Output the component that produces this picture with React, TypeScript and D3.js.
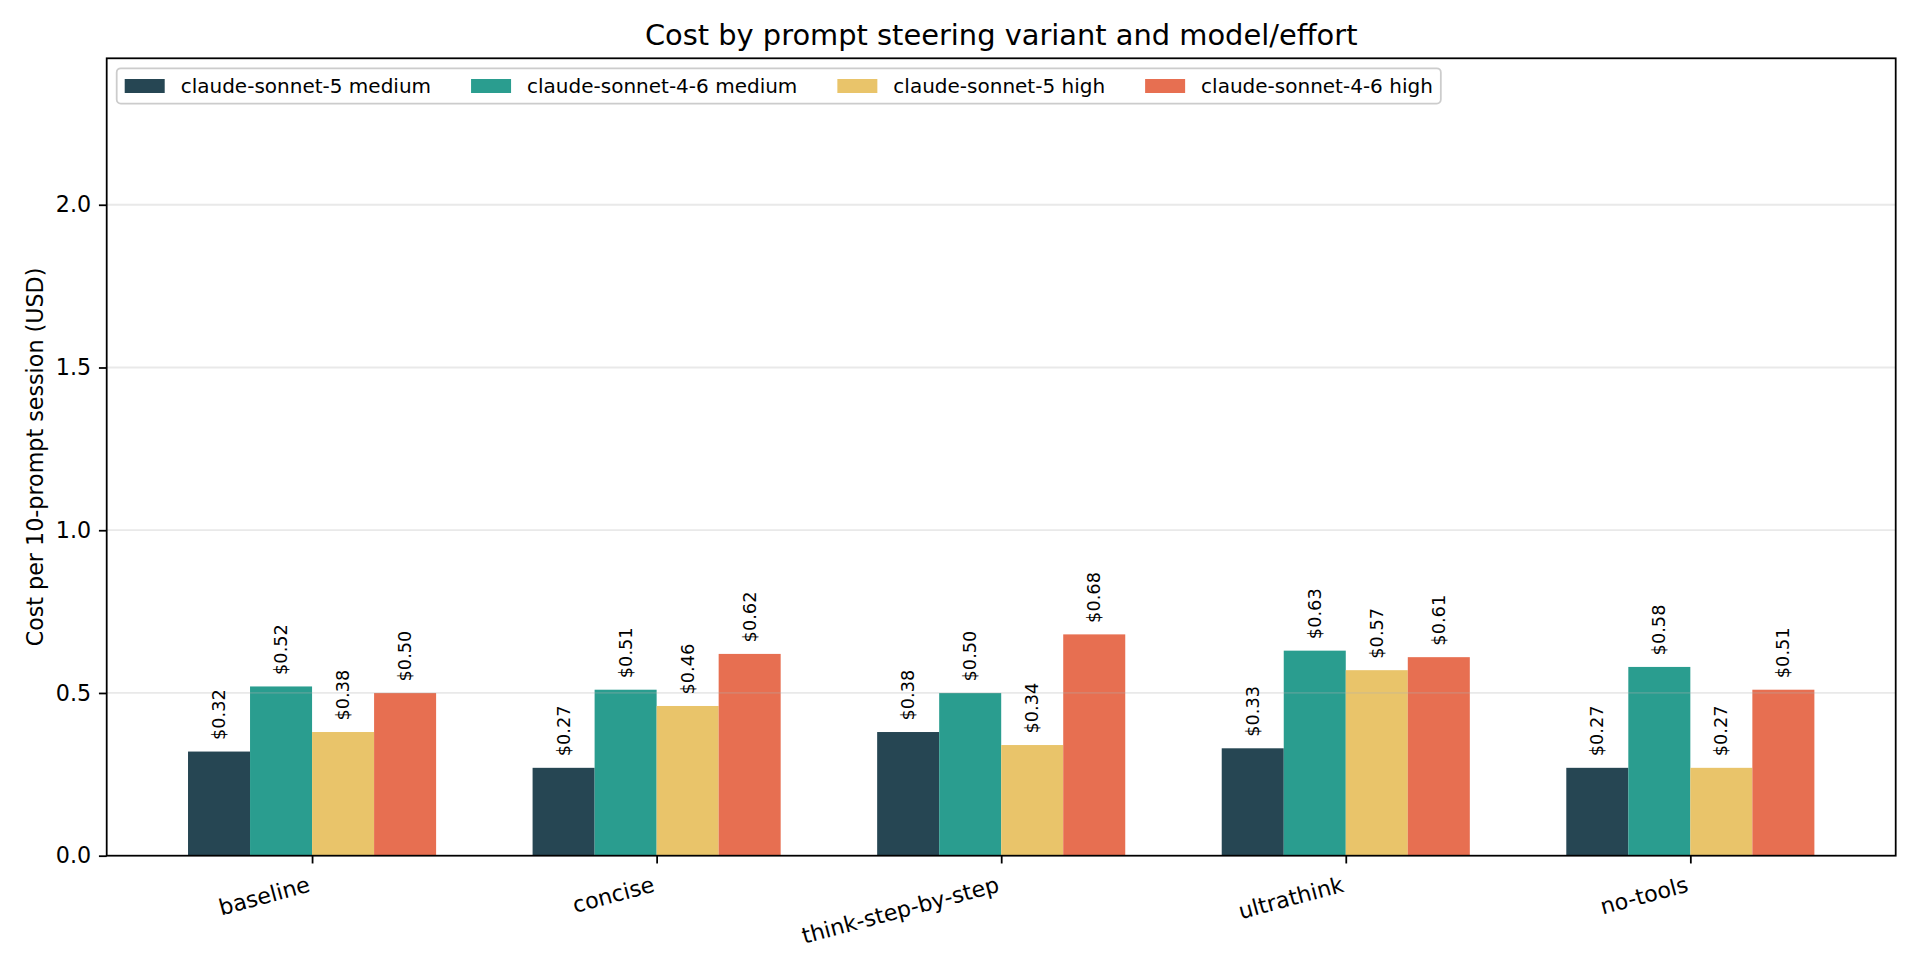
import React, { useEffect, useRef } from "react";
import * as d3 from "d3";

const variants = ["baseline", "concise", "think-step-by-step", "ultrathink", "no-tools"];
const seriesNames = [
  "claude-sonnet-5 medium",
  "claude-sonnet-4-6 medium",
  "claude-sonnet-5 high",
  "claude-sonnet-4-6 high",
];
const sonnet5Medium = [0.32, 0.27, 0.38, 0.33, 0.27];
const sonnet46Medium = [0.52, 0.51, 0.5, 0.63, 0.58];
const sonnet5High = [0.38, 0.46, 0.34, 0.57, 0.27];
const sonnet46High = [0.5, 0.62, 0.68, 0.61, 0.51];
const yTicks = [0, 0.5, 1.0, 1.5, 2.0];

const colors = ["#264653", "#2a9d8f", "#e9c46a", "#e76f51"];

const W = 1920;
const H = 960;
const FONT = "DejaVu Sans, sans-serif";
// 160 dpi: 1pt = 2.222px
const PT = 160 / 72;

const App: React.FC = () => {
  const svgRef = useRef<SVGSVGElement>(null);

  useEffect(() => {
    if (!svgRef.current) return;
    const svg = d3.select(svgRef.current);
    svg.selectAll("*").remove();

    const left = 106.7;
    const right = 1895.7;
    const top = 58.3;
    const bottom = 855.7;
    const barW = 0.18;
    const lw = 0.8 * PT;
    const tickLen = 3.5 * PT;
    const tickFs = 10 * PT;
    const series = [sonnet5Medium, sonnet46Medium, sonnet5High, sonnet46High];

    const x = d3.scaleLinear().domain([-0.596, 4.596]).range([left, right]);
    const y = d3.scaleLinear().domain([0, 2.45]).range([bottom, top]);

    // bars
    series.forEach((vals, s) => {
      const off = (s - 1.5) * barW;
      svg
        .append("g")
        .selectAll("rect")
        .data(vals)
        .join("rect")
        .attr("x", (_, i) => x(i + off - barW / 2))
        .attr("width", x(barW) - x(0))
        .attr("y", (d) => y(d))
        .attr("height", (d) => y(0) - y(d))
        .attr("fill", colors[s]);
    });

    // grid (drawn over bars, like matplotlib default)
    svg
      .append("g")
      .selectAll("line")
      .data(yTicks.slice(1))
      .join("line")
      .attr("x1", left)
      .attr("x2", right)
      .attr("y1", (d) => y(d))
      .attr("y2", (d) => y(d))
      .attr("stroke", "#b0b0b0")
      .attr("stroke-opacity", 0.28)
      .attr("stroke-width", lw);

    // value labels
    series.forEach((vals, s) => {
      const off = (s - 1.5) * barW;
      svg
        .append("g")
        .selectAll("text")
        .data(vals)
        .join("text")
        .attr("transform", (d, i) => `translate(${x(i + off)},${y(d) - 11.5}) rotate(-90)`)
        .attr("text-anchor", "start")
        .attr("dominant-baseline", "central")
        .attr("font-family", FONT)
        .attr("font-size", 8 * PT)
        .attr("fill", "#000")
        .text((d) => `$${d.toFixed(2)}`);
    });

    // y axis
    const yAxis = svg
      .append("g")
      .attr("transform", `translate(${left},0)`)
      .call(
        d3
          .axisLeft(y)
          .tickValues(yTicks)
          .tickFormat(d3.format(".1f"))
          .tickSize(tickLen)
          .tickPadding(tickLen)
      );
    yAxis.select(".domain").remove();
    yAxis.selectAll("line").attr("stroke", "#000").attr("stroke-width", lw);
    yAxis
      .selectAll("text")
      .attr("font-family", FONT)
      .attr("font-size", tickFs)
      .attr("fill", "#000");

    // x axis
    const xAxis = svg
      .append("g")
      .attr("transform", `translate(0,${bottom})`)
      .call(
        d3
          .axisBottom(x)
          .tickValues(d3.range(variants.length))
          .tickFormat((d) => variants[d as number])
          .tickSize(tickLen)
      );
    xAxis.select(".domain").remove();
    xAxis.selectAll("line").attr("stroke", "#000").attr("stroke-width", lw);
    const labTop = 2 * tickLen;
    const labH = 1.17 * tickFs;
    xAxis
      .selectAll("text")
      .attr("font-family", FONT)
      .attr("font-size", tickFs)
      .attr("fill", "#000")
      .attr("text-anchor", "end")
      .attr("y", null)
      .attr("transform", `translate(0,${labTop + labH * Math.cos((15 * Math.PI) / 180)}) rotate(-15)`)
      .attr("dy", "-0.236em");

    // frame
    svg
      .append("rect")
      .attr("x", left)
      .attr("y", top)
      .attr("width", right - left)
      .attr("height", bottom - top)
      .attr("fill", "none")
      .attr("stroke", "#000")
      .attr("stroke-width", lw);

    // title
    svg
      .append("text")
      .attr("x", (left + right) / 2)
      .attr("y", top - 6 * PT)
      .attr("text-anchor", "middle")
      .attr("font-family", FONT)
      .attr("font-size", 13 * PT)
      .attr("fill", "#000")
      .text("Cost by prompt steering variant and model/effort");

    // y label
    svg
      .append("text")
      .attr("transform", `translate(43,${(top + bottom) / 2}) rotate(-90)`)
      .attr("text-anchor", "middle")
      .attr("font-family", FONT)
      .attr("font-size", tickFs)
      .attr("fill", "#000")
      .text("Cost per 10-prompt session (USD)");

    // legend
    const fs = 9 * PT;
    const lg = svg.append("g");
    const bx = left + 0.5 * fs;
    const box = lg
      .append("rect")
      .attr("x", bx)
      .attr("y", top + 0.5 * fs)
      .attr("rx", 4)
      .attr("ry", 4)
      .attr("fill", "#fff")
      .attr("fill-opacity", 0.8)
      .attr("stroke", "#cccccc")
      .attr("stroke-width", lw);
    let cx = bx + 0.4 * fs;
    const cy = 86;
    seriesNames.forEach((name, i) => {
      lg.append("rect")
        .attr("x", cx)
        .attr("y", cy - 0.35 * fs)
        .attr("width", 2 * fs)
        .attr("height", 0.7 * fs)
        .attr("fill", colors[i]);
      const t = lg
        .append("text")
        .attr("x", cx + 2.8 * fs)
        .attr("y", cy)
        .attr("dominant-baseline", "central")
        .attr("font-family", FONT)
        .attr("font-size", fs)
        .attr("fill", "#000")
        .text(name);
      const tw = (t.node() as SVGTextElement).getComputedTextLength();
      cx += 2.8 * fs + tw + (i < seriesNames.length - 1 ? 2 * fs : 0);
    });
    box.attr("width", cx + 0.4 * fs - bx).attr("height", 35.3);
  }, []);

  return (
    <svg
      ref={svgRef}
      width={W}
      height={H}
      style={{ position: "absolute", left: 0, top: 0, background: "#fff" }}
    />
  );
};

export default App;
